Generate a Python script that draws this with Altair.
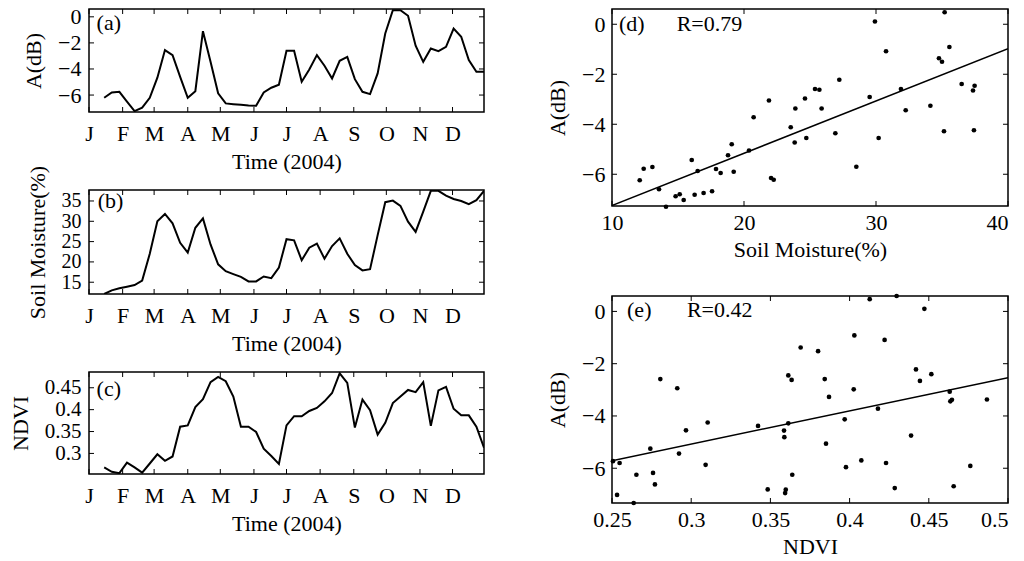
import altair as alt
import pandas as pd

FONT = "Liberation Serif"
FS = 22

# ---------------- data ----------------
dates = ["2004-01-15", "2004-01-22", "2004-01-29", "2004-02-05", "2004-02-12", "2004-02-19", "2004-02-26",
         "2004-03-04", "2004-03-11", "2004-03-18", "2004-03-25", "2004-04-01", "2004-04-08", "2004-04-15",
         "2004-04-22", "2004-04-29", "2004-05-06", "2004-05-13", "2004-05-20", "2004-05-27", "2004-06-03",
         "2004-06-10", "2004-06-17", "2004-06-24", "2004-07-01", "2004-07-08", "2004-07-15", "2004-07-22",
         "2004-07-29", "2004-08-05", "2004-08-12", "2004-08-19", "2004-08-26", "2004-09-02", "2004-09-09",
         "2004-09-16", "2004-09-23", "2004-09-30", "2004-10-07", "2004-10-14", "2004-10-21", "2004-10-28",
         "2004-11-04", "2004-11-11", "2004-11-18", "2004-11-25", "2004-12-02", "2004-12-09", "2004-12-16",
         "2004-12-23", "2004-12-30"]

amp = [-6.21, -5.80, -5.75, -6.5, -7.23, -6.97, -6.21, -4.67, -2.55, -2.94,
       -4.6, -6.21, -5.70, -1.10, -3.45, -5.87, -6.64, -6.70, -6.75, -6.80,
       -6.82, -5.80, -5.44, -5.21, -2.61, -2.61, -4.98, -4.04, -2.94, -3.75,
       -4.73, -3.37, -3.07, -4.78, -5.75, -5.93, -4.34, -1.28, 0.51, 0.51,
       0.08, -2.22, -3.45, -2.43, -2.63, -2.30, -0.90, -1.53, -3.32, -4.21, -4.21]

soil = [12.1, 13.0, 13.5, 13.9, 14.3, 15.4, 22.0, 30.0, 31.8, 29.5,
        24.7, 22.3, 28.4, 30.7, 24.3, 19.4, 17.7, 17.0, 16.3, 15.2,
        15.2, 16.4, 16.0, 18.6, 25.6, 25.3, 20.4, 23.5, 24.5, 20.8,
        23.9, 25.8, 22.0, 19.2, 17.9, 18.2, 26.6, 34.7, 35.1, 33.8,
        29.9, 27.4, 32.4, 37.5, 37.5, 36.3, 35.5, 35.0, 34.2, 35.2, 37.5]

ndvi = [0.268, 0.258, 0.255, 0.279, 0.268, 0.256, 0.277, 0.298, 0.283, 0.293,
        0.361, 0.364, 0.406, 0.424, 0.463, 0.475, 0.465, 0.430, 0.361, 0.361,
        0.349, 0.311, 0.294, 0.276, 0.364, 0.385, 0.385, 0.397, 0.404, 0.419,
        0.438, 0.483, 0.461, 0.359, 0.423, 0.399, 0.343, 0.370, 0.415, 0.430,
        0.445, 0.440, 0.463, 0.363, 0.444, 0.452, 0.402, 0.387, 0.387, 0.361, 0.313]

month_starts = ["2004-01-01", "2004-02-01", "2004-03-01", "2004-04-01", "2004-05-01", "2004-06-01",
                "2004-07-01", "2004-08-01", "2004-09-01", "2004-10-01", "2004-11-01", "2004-12-01"]

# scatter (d): soil moisture vs A
sm_d = [12.10, 12.40, 13.06, 13.56, 14.09, 14.82, 15.13, 15.43, 16.04, 16.49,
        16.26, 16.94, 17.58, 17.88, 18.23, 18.79, 19.07, 19.22, 20.38, 20.73,
        21.89, 22.05, 22.25, 23.54, 23.84, 23.89, 24.62, 24.72, 25.38, 25.71,
        25.88, 26.92, 27.22, 28.51, 29.52, 29.92, 30.20, 30.76, 31.89, 32.25,
        34.12, 34.77, 35.00, 35.15, 35.20, 35.56, 36.49, 37.35, 37.42, 37.47]
amp_d = [-6.24, -5.78, -5.71, -6.60, -7.30, -6.88, -6.80, -7.03, -5.43, -5.87,
         -6.82, -6.75, -6.68, -5.79, -5.95, -5.24, -4.80, -5.90, -5.05, -3.72,
         -3.05, -6.15, -6.22, -4.12, -4.73, -3.37, -2.97, -4.55, -2.59, -2.62,
         -3.37, -4.36, -2.22, -5.70, -2.91, 0.11, -4.55, -1.08, -2.59, -3.44,
         -3.26, -1.36, -1.50, -4.28, 0.48, -0.91, -2.39, -2.65, -4.24, -2.46]

# scatter (e): NDVI vs A
ndvi_e = [0.2532, 0.2548, 0.2506, 0.2637, 0.2654, 0.2742, 0.2759, 0.2771, 0.2805, 0.2912,
          0.2923, 0.2967, 0.3091, 0.3104, 0.3422, 0.3483, 0.3586, 0.3588, 0.3597, 0.3593,
          0.3613, 0.3613, 0.3634, 0.3638, 0.3691, 0.3801, 0.3843, 0.3851, 0.3870, 0.3969,
          0.3977, 0.4030, 0.4026, 0.4074, 0.4127, 0.4179, 0.4221, 0.4230, 0.4285, 0.4297,
          0.4388, 0.4419, 0.4444, 0.4472, 0.4516, 0.4632, 0.4636, 0.4646, 0.4657, 0.4762, 0.4867]
amp_e = [-7.02, -5.80, -5.73, -7.33, -6.25, -5.25, -6.18, -6.62, -2.59, -2.94,
         -5.44, -4.55, -5.87, -4.25, -4.38, -6.81, -4.56, -4.81, -6.82, -6.95,
         -2.45, -4.28, -2.62, -6.25, -1.38, -1.52, -2.59, -5.06, -3.27, -4.13,
         -5.96, -0.92, -2.98, -5.70, 0.47, -3.72, -1.09, -5.80, -6.76, 0.59,
         -4.75, -2.22, -2.66, 0.10, -2.40, -3.07, -3.44, -3.38, -6.69, -5.91, -3.37]

# fitted lines (end points)
fit_d_x = [10, 40]
fit_d_y = [-7.25, -0.98]
fit_e_x = [0.25, 0.5]
fit_e_y = [-5.71, -2.54]

# tick values
a_ticks = [-6, -4, -2, 0]
sm_ticks = [15, 20, 25, 30, 35]
ndvi_ticks = [0.3, 0.35, 0.4, 0.45]
d_xticks = [10, 20, 30, 40]
e_xticks = [0.25, 0.3, 0.35, 0.4, 0.45, 0.5]

# annotations (data coordinates)
ann_a = {"date": ["2004-01-08"], "v": [-1.0], "label": ["(a)"]}
ann_b = {"date": ["2004-01-09"], "v": [33.3], "label": ["(b)"]}
ann_c = {"date": ["2004-01-08"], "v": [0.4305], "label": ["(c)"]}
ann_d = {"x": [10.53, 14.9], "v": [-0.28, -0.28], "label": ["(d)", "R=0.79"]}
ann_e = {"x": [0.2595, 0.2973], "v": [-0.22, -0.22], "label": ["(e)", "R=0.42"]}

# ---------------- helpers ----------------
TL = 5  # inward tick length


def to_dt(lst):
    return pd.to_datetime(pd.Series(lst))


def framed_layers(X, Y, xfield, xvals, yfield, yvals, W, H):
    xdf = pd.DataFrame({xfield: xvals})
    ydf = pd.DataFrame({yfield: yvals})
    bx = alt.Chart(xdf).mark_rule(color="black", strokeWidth=1)
    by = alt.Chart(ydf).mark_rule(color="black", strokeWidth=1)
    return [
        bx.encode(x=X, y=alt.value(H), y2=alt.value(H - TL)),
        bx.encode(x=X, y=alt.value(0), y2=alt.value(TL)),
        by.encode(y=Y, x=alt.value(0), x2=alt.value(TL)),
        by.encode(y=Y, x=alt.value(W), x2=alt.value(W - TL)),
    ]


def text_layer(ann, X, Y):
    return alt.Chart(pd.DataFrame(ann)).mark_text(
        align="left", baseline="alphabetic", font=FONT, fontSize=FS, color="black"
    ).encode(x=X, y=Y, text="label:N")


time_scale = alt.Scale(domain=[alt.DateTime(year=2004, month=1, date=1),
                               alt.DateTime(year=2004, month=12, date=30)], nice=False)
time_axis = alt.Axis(values=[alt.DateTime(year=2004, month=m, date=1) for m in range(1, 13)],
                     labelExpr="substring(timeFormat(datum.value, '%B'), 0, 1)",
                     title="Time (2004)", labelFlush=False, labelOverlap=False,
                     labelPadding=11, titlePadding=7)

LW, RW = 395, 396


def time_panel(values, yname, ytitle, ydomain, yticks, yformat, ann, H, lab_fs=FS):
    df = pd.DataFrame({"date": to_dt(dates), yname: values})
    ax_kwargs = dict(values=yticks, title=ytitle, labelPadding=8, titlePadding=12,
                     labelOverlap=False, labelFontSize=lab_fs)
    if yformat:
        ax_kwargs["format"] = yformat
    Y = alt.Y(f"{yname}:Q", scale=alt.Scale(domain=ydomain, nice=False, zero=False),
              axis=alt.Axis(**ax_kwargs))
    X = alt.X("date:T", scale=time_scale, axis=time_axis)
    line = alt.Chart(df).mark_line(color="black", strokeWidth=2, clip=True).encode(x=X, y=Y)
    ann_df = {"date": to_dt(ann["date"]), yname: ann["v"], "label": ann["label"]}
    layers = [line] + framed_layers(X, Y, "date", to_dt(month_starts), yname, yticks, LW, H) \
        + [text_layer(ann_df, X, Y)]
    return alt.layer(*layers).properties(width=LW, height=H)


ydom_s = {"sm": [-7.27, 0.61], "nd": [-7.33, 0.59]}


def scatter_panel(xv, yv, xname, xtitle, xdomain, xticks, xformat, fitx, fity, ann, H, extra=None):
    df = pd.DataFrame({xname: xv, "A": yv})
    fdf = pd.DataFrame({xname: fitx, "A": fity})
    last = xticks[-1]
    xax = dict(values=xticks, title=xtitle, labelFlush=False, labelOverlap=False,
               labelPadding=6, titlePadding=6,
               labelAlign={"condition": {"test": f"datum.value >= {last}", "value": "right"},
                           "value": "center"})
    if xformat:
        xax["format"] = xformat
    X = alt.X(f"{xname}:Q", scale=alt.Scale(domain=xdomain, nice=False, zero=False), axis=alt.Axis(**xax))
    Y = alt.Y("A:Q", scale=alt.Scale(domain=ydom_s[xname], nice=False, zero=False),
              axis=alt.Axis(values=a_ticks, title="A(dB)", labelPadding=7, titlePadding=12,
                            labelOverlap=False))
    pts = alt.Chart(df).mark_circle(size=22, color="black", opacity=1).encode(x=X, y=Y)
    fit = alt.Chart(fdf).mark_line(color="black", strokeWidth=1.5, clip=True).encode(x=X, y=Y)
    ann_df = {xname: ann["x"], "A": ann["v"], "label": ann["label"]}
    layers = [fit, pts] + framed_layers(X, Y, xname, xticks, "A", a_ticks, RW, H) \
        + [text_layer(ann_df, X, Y)]
    if extra is not None:
        layers.append(extra)
    return alt.layer(*layers).properties(width=RW, height=H)


# invisible spacer so both columns share the same top bound
spacer = alt.Chart(pd.DataFrame({"s": [" "]})).mark_text(
    fontSize=1, opacity=0, baseline="top", align="left"
).encode(x=alt.value(0), y=alt.value(-3.2), text="s:N")

pa = time_panel(amp, "A", "A(dB)", [-7.3, 0.6], a_ticks, None, ann_a, 103)
pb = time_panel(soil, "SM", "Soil Moisture(%)", [12.1, 37.7], sm_ticks, None, ann_b, 104, lab_fs=20)
pc = time_panel(ndvi, "NDVI", "NDVI", [0.253, 0.486], ndvi_ticks, ".2~f", ann_c, 102, lab_fs=21)

pd_ = scatter_panel(sm_d, amp_d, "sm", "Soil Moisture(%)", [10, 40], d_xticks, None,
                    fit_d_x, fit_d_y, ann_d, 197, extra=spacer)
pe = scatter_panel(ndvi_e, amp_e, "nd", "NDVI", [0.25, 0.5], e_xticks, ".2~f",
                   fit_e_x, fit_e_y, ann_e, 207)

left = alt.vconcat(pa, pb, pc, spacing=78, bounds="flush")
right = alt.vconcat(pd_, pe, spacing=90, bounds="flush")

chart = alt.hconcat(left, right, spacing=59).properties(
    padding={"left": 0, "top": -3, "right": 0, "bottom": 0}
).configure_view(
    stroke="black", strokeWidth=1.5
).configure_axis(
    labelFont=FONT, titleFont=FONT, labelFontSize=FS, titleFontSize=FS,
    labelColor="black", titleColor="black", titleFontWeight="normal",
    grid=False, domain=False, ticks=False, tickSize=0
)

chart.save("out.html", embed_options={"renderer": "svg", "actions": False})
